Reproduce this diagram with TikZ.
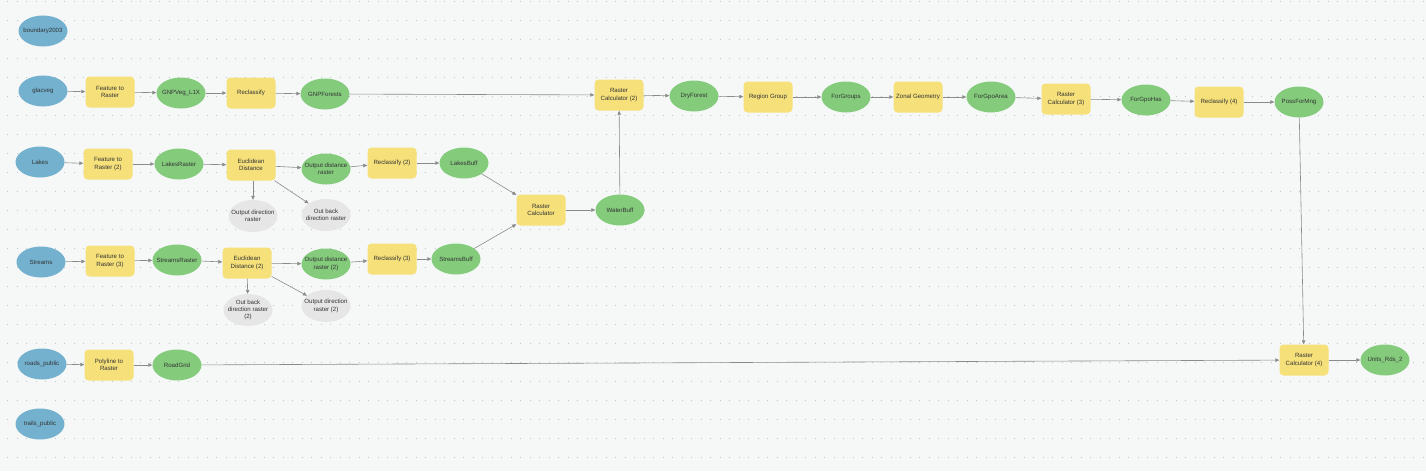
\documentclass[tikz,border=0pt]{standalone}
\usepackage{fontspec}
\setmainfont{Liberation Sans}
\usetikzlibrary{shapes.geometric,arrows.meta}
\definecolor{bgc}{HTML}{F6F8F8}
\definecolor{dotc}{HTML}{BFC4C4}
\definecolor{inblue}{HTML}{73B1CF}
\definecolor{outgreen}{HTML}{84CB7C}
\definecolor{toolyel}{HTML}{F5E07A}
\definecolor{greyout}{HTML}{E6E6E6}
\definecolor{linec}{HTML}{8A8A8A}
\definecolor{txt}{HTML}{333333}
\tikzset{
  base/.style={font=\fontsize{6.1}{7.4}\selectfont, text=txt, align=center, inner sep=1pt},
  ell/.style={base, ellipse, inner xsep=-7pt, inner ysep=-2pt},
  indata/.style={ell, fill=inblue, minimum width=49pt, minimum height=31pt},
  outdata/.style={ell, fill=outgreen, minimum width=49pt, minimum height=31pt},
  greydata/.style={ell, fill=greyout, minimum width=49pt, minimum height=32pt},
  tool/.style={base, rectangle, rounded corners=4pt, fill=toolyel, minimum width=49pt, minimum height=31pt},
  conn/.style={draw=linec, line width=0.6pt, -{Triangle[length=4pt,width=3.5pt]}}
}
\begin{document}
\begin{tikzpicture}[x=1pt,y=-1pt]
\fill[bgc] (0,0) rectangle (1426,471);
\useasboundingbox (0,0) rectangle (1426,471);
\foreach \r in {0,...,24} {
  \draw[dotc, line width=1pt, dash pattern=on 1pt off 8.5pt] (7.3,1.3+19*\r) -- (1426,1.3+19*\r);
}
% inputs
\node[indata] (bnd) at (43,31) {boundary2003};
\node[indata] (glac) at (43,91) {glacveg};
\node[indata] (lakes) at (40,162) {Lakes};
\node[indata] (streams) at (41,262) {Streams};
\node[indata] (roads) at (42,364) {roads\_public};
\node[indata] (trails) at (40,424) {trails\_public};
% row 1
\node[tool] (ftr) at (110,92) {Feature to\\Raster};
\node[outdata] (veg) at (181,93) {GNPVeg\_L1X};
\node[tool] (recl) at (251,93) {Reclassify};
\node[outdata] (forests) at (325,94) {GNPForests};
% row 2
\node[tool] (ftr2) at (108,164) {Feature to\\Raster (2)};
\node[outdata] (lraster) at (179,164) {LakesRaster};
\node[tool] (euc) at (251,165) {Euclidean\\Distance};
\node[outdata] (odist) at (326,169) {Output distance\\raster};
\node[greydata] (odir) at (253,216) {Output direction\\raster};
\node[greydata] (oback) at (326,215) {Out back\\direction raster};
\node[tool] (recl2) at (392,163) {Reclassify (2)};
\node[outdata] (lbuff) at (464,163) {LakesBuff};
% row 3
\node[tool] (ftr3) at (110,261) {Feature to\\Raster (3)};
\node[outdata] (sraster) at (177,260) {StreamsRaster};
\node[tool] (euc2) at (247,263) {Euclidean\\Distance (2)};
\node[outdata] (odist2) at (326,264) {Output distance\\raster (2)};
\node[greydata] (oback2) at (248,310) {Out back\\direction raster\\(2)};
\node[greydata] (odir2) at (326,306) {Output direction\\raster (2)};
\node[tool] (recl3) at (392,259) {Reclassify (3)};
\node[outdata] (sbuff) at (456,259) {StreamsBuff};
% merge
\node[tool] (rc) at (541,210) {Raster\\Calculator};
\node[outdata] (wbuff) at (620,210) {WaterBuff};
% top chain
\node[tool] (rc2) at (619,95) {Raster\\Calculator (2)};
\node[outdata] (dry) at (694,96) {DryForest};
\node[tool] (rg) at (768,97) {Region Group};
\node[outdata] (fgroups) at (846,97) {ForGroups};
\node[tool] (zonal) at (918,97) {Zonal Geometry};
\node[outdata] (farea) at (991,97) {ForGpoArea};
\node[tool] (rc3) at (1066,99) {Raster\\Calculator (3)};
\node[outdata] (fhas) at (1146,100) {ForGpoHas};
\node[tool] (recl4) at (1219,102) {Reclassify (4)};
\node[outdata] (poss) at (1299,102) {PossForMng};
% bottom
\node[tool] (ptr) at (109,365) {Polyline to\\Raster};
\node[outdata] (rgrid) at (177,365) {RoadGrid};
\node[tool] (rc4) at (1304,360) {Raster\\Calculator (4)};
\node[outdata] (units) at (1385,360) {Units\_Rds\_2};
% connectors
\draw[conn] (glac) -- (ftr);
\draw[conn] (ftr) -- (veg);
\draw[conn] (veg) -- (recl);
\draw[conn] (recl) -- (forests);
\draw[conn] (forests) -- (rc2);
\draw[conn] (lakes) -- (ftr2);
\draw[conn] (ftr2) -- (lraster);
\draw[conn] (lraster) -- (euc);
\draw[conn] (euc) -- (odist);
\draw[conn] (euc.south -| odir) -- (odir);
\draw[conn] (euc) -- (oback);
\draw[conn] (odist) -- (recl2);
\draw[conn] (recl2) -- (lbuff);
\draw[conn] (lbuff) -- (rc);
\draw[conn] (streams) -- (ftr3);
\draw[conn] (ftr3) -- (sraster);
\draw[conn] (sraster) -- (euc2);
\draw[conn] (euc2) -- (odist2);
\draw[conn] (euc2) -- (oback2);
\draw[conn] (euc2) -- (odir2);
\draw[conn] (odist2) -- (recl3);
\draw[conn] (recl3) -- (sbuff);
\draw[conn] (sbuff) -- (rc);
\draw[conn] (rc) -- (wbuff);
\draw[conn] (wbuff) -- (rc2);
\draw[conn] (rc2) -- (dry);
\draw[conn] (dry) -- (rg);
\draw[conn] (rg) -- (fgroups);
\draw[conn] (fgroups) -- (zonal);
\draw[conn] (zonal) -- (farea);
\draw[conn] (farea) -- (rc3);
\draw[conn] (rc3) -- (fhas);
\draw[conn] (fhas) -- (recl4);
\draw[conn] (recl4) -- (poss);
\draw[conn] (poss) -- (rc4);
\draw[conn] (roads) -- (ptr);
\draw[conn] (ptr) -- (rgrid);
\draw[conn] (rgrid) -- (rc4);
\draw[conn] (rc4) -- (units);
\end{tikzpicture}
\end{document}
